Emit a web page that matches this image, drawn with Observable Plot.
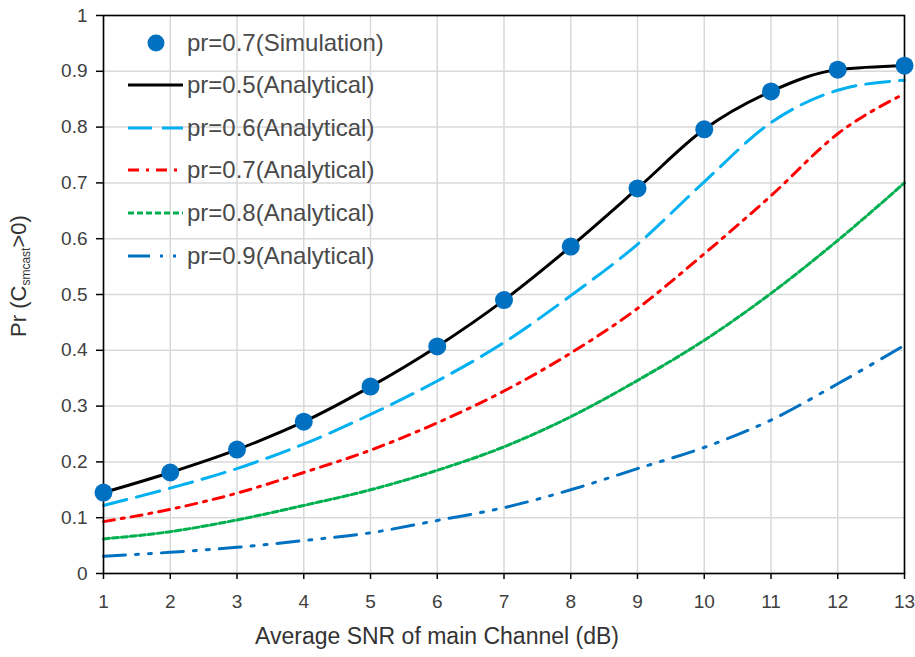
<!DOCTYPE html>
<html><head><meta charset="utf-8">
<script src="https://cdn.jsdelivr.net/npm/d3@7"></script>
<script src="https://cdn.jsdelivr.net/npm/@observablehq/plot@0.6"></script>
<style>
body{margin:0;background:#fff;font-family:"Liberation Sans",Arial,sans-serif;}
#wrap{position:relative;width:915px;height:657px;overflow:hidden;}
#wrap svg.plot{position:absolute;left:0;top:0;}
.ylab{position:absolute;left:22px;top:276px;transform:translate(-50%,-50%) rotate(-90deg);white-space:nowrap;font-size:22px;color:#333;line-height:22px;}
.ylab sub{font-size:12px;vertical-align:-4px;}
.xlab{position:absolute;left:437px;top:625px;transform:translateX(-50%);white-space:nowrap;font-size:23px;color:#333;line-height:23px;}
.leg{position:absolute;left:0;top:0;}
.legrow{position:absolute;left:120px;height:30px;display:flex;align-items:center;}
.legrow span{font-size:24px;color:#4a4a4a;line-height:30px;margin-left:3px;white-space:nowrap;}
</style></head><body><div id="wrap"></div>
<script>
// ---- data ----
const snr = [1,2,3,4,5,6,7,8,9,10,11,12,13];
const xTicks = [1,2,3,4,5,6,7,8,9,10,11,12,13];
const yTicks = [0,0.1,0.2,0.3,0.4,0.5,0.6,0.7,0.8,0.9,1];
const sim07 = [0.145,0.181,0.222,0.272,0.335,0.407,0.490,0.586,0.690,0.796,0.864,0.903,0.910];
const pr05  = [0.145,0.181,0.222,0.272,0.335,0.407,0.490,0.586,0.690,0.796,0.864,0.903,0.910];
const pr06  = [0.122,0.153,0.188,0.232,0.285,0.345,0.414,0.498,0.590,0.702,0.808,0.866,0.884];
const pr07  = [0.093,0.115,0.144,0.181,0.221,0.270,0.327,0.395,0.475,0.573,0.677,0.788,0.860];
const pr08  = [0.062,0.075,0.096,0.122,0.150,0.185,0.227,0.281,0.346,0.418,0.502,0.597,0.700];
const pr09  = [0.031,0.038,0.047,0.059,0.073,0.095,0.118,0.150,0.188,0.226,0.275,0.340,0.409];
const simLabel = "pr=0.7(Simulation)";
const lineLabels = ["pr=0.5(Analytical)","pr=0.6(Analytical)","pr=0.7(Analytical)","pr=0.8(Analytical)","pr=0.9(Analytical)"];
const lineValues = [pr05, pr06, pr07, pr08, pr09];
const lineColors = ["#000000","#00B0F0","#FF0000","#00B050","#0070C0"];
const lineDashes = [null,"24,10","11,7,3,7","6,3","22,10,3,10,3,10"];
const markerColor = "#0070C0";

const series = lineLabels.map((name,k)=>({name, data: snr.map((x,i)=>({x, y: lineValues[k][i]})), color: lineColors[k], dash: lineDashes[k]}));
const simData = snr.map((x,i)=>({x, y: sim07[i]}));

const plot = Plot.plot({
  width: 915, height: 657,
  marginLeft: 103, marginRight: 11, marginTop: 15, marginBottom: 84,
  x: {domain: [1,13]},
  y: {domain: [0,1]},
  style: {fontFamily: "Liberation Sans, Arial, sans-serif", background: "transparent", overflow: "visible"},
  marks: [
    Plot.gridX(xTicks, {stroke: "#d9d9d9", strokeOpacity: 1, strokeWidth: 1.5}),
    Plot.gridY(yTicks, {stroke: "#d9d9d9", strokeOpacity: 1, strokeWidth: 1.5}),
    ...series.map(s => Plot.line(s.data, {x: "x", y: "y", stroke: s.color, strokeWidth: 3, strokeDasharray: s.dash || undefined, curve: "monotone-x"})),
    Plot.frame({stroke: "#000", strokeWidth: 1.6}),
    Plot.dot(simData, {x: "x", y: "y", r: 9, fill: markerColor, stroke: "none"}),
    Plot.axisX(xTicks, {tickSize: 6, tickPadding: 15, fontSize: 19, stroke: "#000", strokeWidth: 1.5, fill: "#404040", label: null}),
    Plot.axisY(yTicks, {tickSize: 7, tickPadding: 9, fontSize: 19, stroke: "#000", strokeWidth: 1.5, fill: "#404040", tickFormat: d => String(+d.toFixed(1)), label: null})
  ]
});
plot.classList.add("plot");
const wrap = document.getElementById("wrap");
wrap.appendChild(plot);

// axis titles
const yl = document.createElement("div");
yl.className = "ylab";
yl.innerHTML = "Pr (C<sub>smcast</sub>&gt;0)";
wrap.appendChild(yl);
const xl = document.createElement("div");
xl.className = "xlab";
xl.textContent = "Average SNR of main Channel (dB)";
wrap.appendChild(xl);

// legend
const leg = document.createElement("div");
leg.className = "leg";
const rowY = [43,85,128,170,213,256];
const items = [{name: simLabel, marker: true}, ...series];
items.forEach((it, i) => {
  const row = document.createElement("div");
  row.className = "legrow";
  row.style.top = (rowY[i] - 15) + "px";
  const ns = "http://www.w3.org/2000/svg";
  const sw = document.createElementNS(ns, "svg");
  sw.setAttribute("width", 64); sw.setAttribute("height", 30);
  if (it.marker) {
    const c = document.createElementNS(ns, "circle");
    c.setAttribute("cx", 36); c.setAttribute("cy", 15); c.setAttribute("r", 8.5);
    c.setAttribute("fill", markerColor);
    sw.appendChild(c);
  } else {
    const l = document.createElementNS(ns, "line");
    l.setAttribute("x1", 8); l.setAttribute("x2", 63); l.setAttribute("y1", 15); l.setAttribute("y2", 15);
    l.setAttribute("stroke", it.color); l.setAttribute("stroke-width", 3);
    if (it.dash) l.setAttribute("stroke-dasharray", it.dash);
    sw.appendChild(l);
  }
  row.appendChild(sw);
  const t = document.createElement("span");
  t.textContent = it.name;
  row.appendChild(t);
  leg.appendChild(row);
});
wrap.appendChild(leg);
</script></body></html>
